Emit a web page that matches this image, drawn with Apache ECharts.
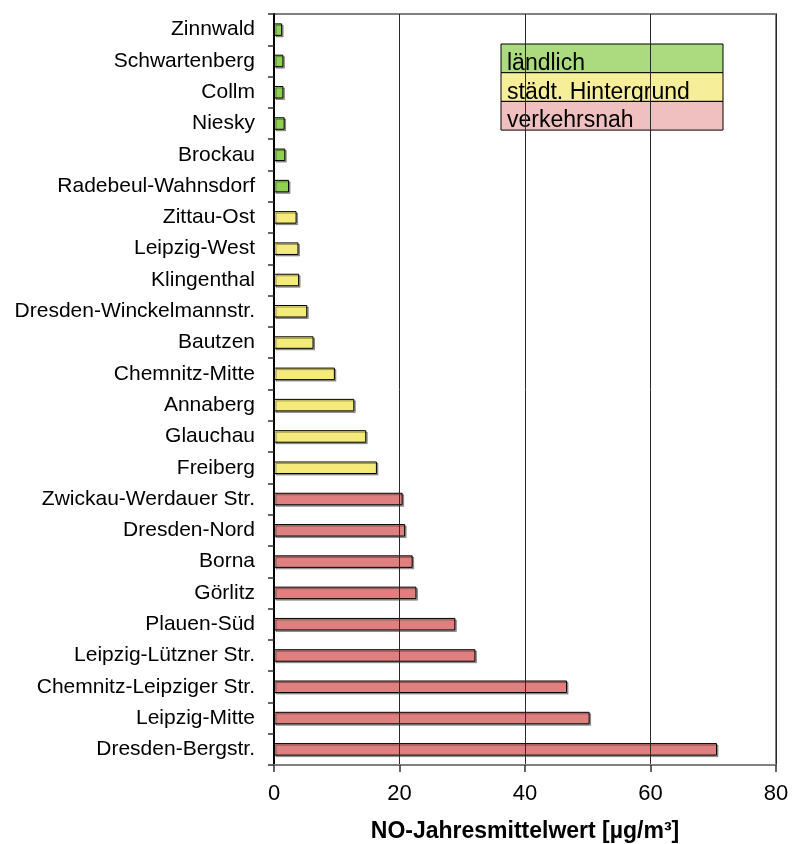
<!DOCTYPE html>
<html>
<head>
<meta charset="utf-8">
<title>NO-Jahresmittelwerte Sachsen</title>
<script src="https://cdn.jsdelivr.net/npm/echarts@6/dist/echarts.min.js"></script>
<style>
  html, body { margin: 0; padding: 0; background: #ffffff; }
  #chart { width: 792px; height: 844px; }
</style>
</head>
<body>
<div id="chart"></div>
<script>
// Messstationen von oben nach unten
const stations = [
  'Zinnwald', 'Schwartenberg', 'Collm', 'Niesky', 'Brockau', 'Radebeul-Wahnsdorf',
  'Zittau-Ost', 'Leipzig-West', 'Klingenthal', 'Dresden-Winckelmannstr.', 'Bautzen',
  'Chemnitz-Mitte', 'Annaberg', 'Glauchau', 'Freiberg',
  'Zwickau-Werdauer Str.', 'Dresden-Nord', 'Borna', 'Görlitz', 'Plauen-Süd',
  'Leipzig-Lützner Str.', 'Chemnitz-Leipziger Str.', 'Leipzig-Mitte', 'Dresden-Bergstr.'
];

// NO-Jahresmittelwerte in µg/m³
const noValues = [
  1.3, 1.5, 1.5, 1.7, 1.8, 2.4,
  3.6, 3.9, 4.0, 5.3, 6.3,
  9.7, 12.8, 14.7, 16.4,
  20.5, 20.9, 22.1, 22.7, 28.9,
  32.1, 46.7, 50.3, 70.6
];

// Stationstyp je Messstation
const stationTypes = [
  'laendlich', 'laendlich', 'laendlich', 'laendlich', 'laendlich', 'laendlich',
  'hintergrund', 'hintergrund', 'hintergrund', 'hintergrund', 'hintergrund',
  'hintergrund', 'hintergrund', 'hintergrund', 'hintergrund',
  'verkehr', 'verkehr', 'verkehr', 'verkehr', 'verkehr',
  'verkehr', 'verkehr', 'verkehr', 'verkehr'
];

// Legendeneinträge
const legendLabels = ['ländlich', 'städt. Hintergrund', 'verkehrsnah'];
const legendKeys = ['laendlich', 'hintergrund', 'verkehr'];

// x-Achse
const axisTicks = [0, 20, 40, 60, 80];
const axisTitle = 'NO-Jahresmittelwert [µg/m³]';

const barColors = { laendlich: '#8fd14f', hintergrund: '#f4eb7a', verkehr: '#df7f7f' };
const legendColors = { laendlich: '#abdb7e', hintergrund: '#f7ee99', verkehr: '#f0c0c0' };

const FONT = '"Liberation Sans", Arial, Helvetica, sans-serif';

const chart = echarts.init(document.getElementById('chart'), null, { renderer: 'canvas' });

const barData = noValues.map((v, i) => ({
  value: v,
  itemStyle: { color: barColors[stationTypes[i]] }
}));

// Legendenkasten: Zeilen nacheinander, jede Zeile überdeckt die Unterlängen der vorigen
const legendLeft = 501, legendTop = 44, legendW = 222, rowH = 28.7;
const legendGraphics = [];
legendKeys.forEach((key, i) => {
  legendGraphics.push({
    type: 'rect',
    z: 1 + i * 2,
    shape: { x: legendLeft, y: legendTop + i * rowH, width: legendW, height: rowH },
    style: { fill: legendColors[key], stroke: '#000', lineWidth: 1 }
  });
  legendGraphics.push({
    type: 'text',
    z: 2 + i * 2,
    x: legendLeft + 6,
    y: legendTop + (i + 1) * rowH - 9,
    style: {
      text: legendLabels[i],
      font: '23px ' + FONT,
      fill: '#000',
      verticalAlign: 'middle',
      align: 'left'
    }
  });
});

chart.setOption({
  animation: false,
  backgroundColor: '#ffffff',
  grid: {
    left: 274, right: 16, top: 14, bottom: 79,
    containLabel: false,
    outerBoundsMode: 'none',
    show: true,
    borderColor: '#808080',
    borderWidth: 2,
    backgroundColor: 'transparent'
  },
  xAxis: {
    type: 'value',
    min: axisTicks[0],
    max: axisTicks[axisTicks.length - 1],
    interval: axisTicks[1] - axisTicks[0],
    z: 20,
    axisLine: { show: true, lineStyle: { color: '#808080', width: 2 } },
    axisTick: { show: true, length: 7, lineStyle: { color: '#333', width: 1.5 } },
    splitLine: { show: true, lineStyle: { color: '#2a2a2a', width: 1 } },
    axisLabel: {
      color: '#000',
      fontFamily: FONT,
      fontSize: 22,
      margin: 18
    },
    name: axisTitle,
    nameLocation: 'middle',
    nameGap: 55,
    nameTextStyle: {
      color: '#000',
      fontFamily: FONT,
      fontSize: 23,
      fontWeight: 'bold'
    }
  },
  yAxis: {
    type: 'category',
    data: stations,
    inverse: true,
    z: 20,
    axisLine: { show: true, lineStyle: { color: '#000', width: 2 } },
    axisTick: { show: true, length: 6, inside: false, lineStyle: { color: '#333', width: 1.5 } },
    splitLine: { show: false },
    axisLabel: {
      color: '#000',
      fontFamily: FONT,
      fontSize: 21,
      margin: 19,
      interval: 0
    }
  },
  series: [{
    type: 'bar',
    data: barData,
    barWidth: '40%',
    itemStyle: {
      borderColor: '#000',
      borderWidth: 1,
      shadowColor: 'rgba(0,0,0,0.35)',
      shadowBlur: 0,
      shadowOffsetX: 1.5,
      shadowOffsetY: 1.5
    },
    emphasis: { disabled: true }
  }],
  graphic: legendGraphics
});
</script>
</body>
</html>
